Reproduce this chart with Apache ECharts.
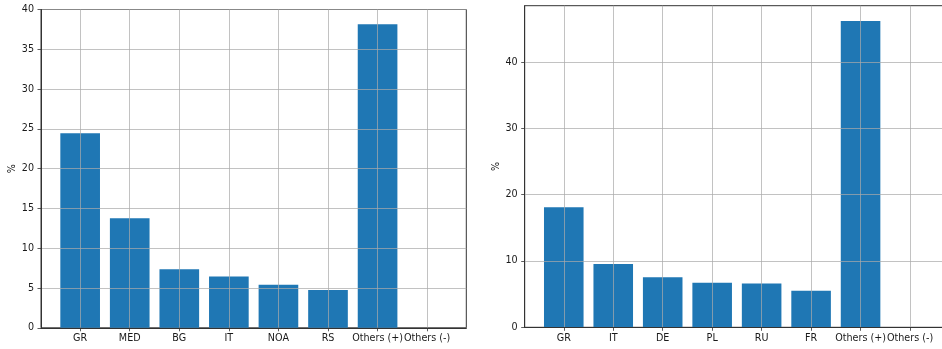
<!DOCTYPE html>
<html>
<head>
<meta charset="utf-8">
<script src="https://cdn.jsdelivr.net/npm/echarts@6/dist/echarts.min.js"></script>
<style>
html,body{margin:0;padding:0;background:#fff;}
#chart{width:942px;height:349px;}
</style>
</head>
<body>
<div id="chart"></div>
<script>
const leftCategories = ['GR', 'MED', 'BG', 'IT', 'NOA', 'RS', 'Others (+)', 'Others (-)'];
const leftValues = [24.45, 13.78, 7.37, 6.45, 5.40, 4.74, 38.15, 0];
const leftYTicks = [0, 5, 10, 15, 20, 25, 30, 35, 40];

const rightCategories = ['GR', 'IT', 'DE', 'PL', 'RU', 'FR', 'Others (+)', 'Others (-)'];
const rightValues = [18.1, 9.55, 7.56, 6.7, 6.6, 5.5, 46.2, 0];
const rightYTicks = [0, 10, 20, 30, 40];

const yLabel = '%';

const FONT = '"DejaVu Sans"';
const TXT = '#1a1a1a';
const GRIDC = 'rgba(170,170,170,0.9)';
const BAR = '#1f77b4';
const FS = 9.6;

function xAxisFor(cats, gridIndex) {
  const idx = cats.map((c, i) => i);
  return {
    type: 'value', gridIndex: gridIndex,
    min: -0.79, max: cats.length - 1 + 0.79,
    z: 3,
    axisLine: {show: true, onZero: false, lineStyle: {color: '#333', width: 1}},
    axisTick: {show: true, customValues: idx, length: 3.5, lineStyle: {color: '#333', width: 0.8}},
    axisLabel: {show: true, customValues: idx, margin: 6, color: TXT, fontFamily: FONT, fontSize: FS,
      hideOverlap: false,
      formatter: v => cats[Math.round(v)]},
    splitLine: {show: true, lineStyle: {color: GRIDC, width: 0.8}}
  };
}
function yAxisFor(ticks, max, gridIndex) {
  return {
    type: 'value', gridIndex: gridIndex,
    min: 0, max: max,
    z: 3,
    name: yLabel, nameLocation: 'middle', nameRotate: 90, nameGap: 17,
    nameTextStyle: {color: TXT, fontFamily: FONT, fontSize: FS},
    axisLine: {show: true, onZero: false, lineStyle: {color: '#333', width: 1}},
    axisTick: {show: true, customValues: ticks, length: 3.5, lineStyle: {color: '#333', width: 0.8}},
    axisLabel: {show: true, customValues: ticks, margin: 7, color: TXT, fontFamily: FONT, fontSize: FS},
    splitLine: {show: true, lineStyle: {color: GRIDC, width: 0.8}}
  };
}

const chart = echarts.init(document.getElementById('chart'), null, {renderer: 'canvas'});
chart.setOption({
  backgroundColor: '#fff',
  animation: false,
  grid: [
    {left: 41, width: 425.3, top: 9.5, bottom: 21.2, show: true, borderColor: '#333', borderWidth: 1,
     containLabel: false, outerBoundsMode: 'none'},
    {left: 524.7, width: 424.4, top: 5.7, bottom: 21.7, show: true, borderColor: '#333', borderWidth: 1,
     containLabel: false, outerBoundsMode: 'none'}
  ],
  xAxis: [xAxisFor(leftCategories, 0), xAxisFor(rightCategories, 1)],
  yAxis: [yAxisFor(leftYTicks, 40, 0), yAxisFor(rightYTicks, 48.5, 1)],
  series: [
    {type: 'bar', xAxisIndex: 0, yAxisIndex: 0, z: 1, barWidth: '80%',
     itemStyle: {color: BAR}, data: leftValues.map((v, i) => [i, v])},
    {type: 'bar', xAxisIndex: 1, yAxisIndex: 1, z: 1, barWidth: '80%',
     itemStyle: {color: BAR}, data: rightValues.map((v, i) => [i, v])}
  ]
});
</script>
</body>
</html>
